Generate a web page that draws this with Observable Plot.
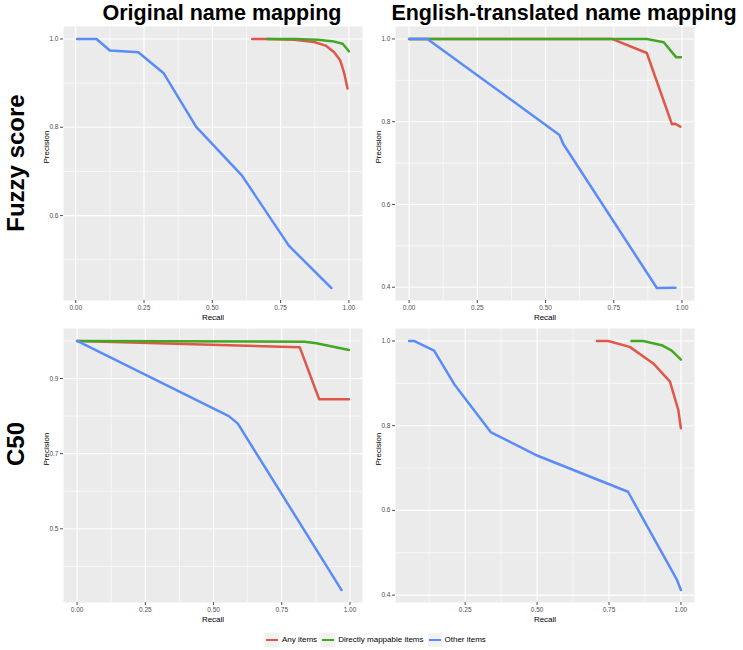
<!DOCTYPE html>
<html><head><meta charset="utf-8">
<script src="https://cdn.jsdelivr.net/npm/d3@7"></script>
<script src="https://cdn.jsdelivr.net/npm/@observablehq/plot@0.6"></script>
<style>
body{margin:0;background:#fff;font-family:"Liberation Sans",Arial,Helvetica,sans-serif;}
#wrap{position:relative;width:743px;height:650px;overflow:hidden;background:#fff;}
.abs{position:absolute;}
.coltitle{font-weight:bold;font-size:21.5px;line-height:1;white-space:nowrap;transform:translateX(-50%);}
.rowtitle{font-weight:bold;font-size:24px;line-height:1;white-space:nowrap;transform:translate(-50%,-50%) rotate(-90deg);}
.legend{display:flex;align-items:center;font-size:8px;color:#000;line-height:1;}
.legend .key{width:14px;height:14px;background:#F2F2F2;display:flex;align-items:center;justify-content:center;margin-right:3px;}
.legend .key span{display:block;width:12px;height:2.5px;}
.legend .lab{margin-right:4px;}
</style></head>
<body><div id="wrap"></div>
<script>
// ---- labels ----
const seriesNames = ["Any items", "Directly mappable items", "Other items"];
const seriesColors = ["#E0574A", "#42A821", "#5A8CF9"];
const columnTitles = ["Original name mapping", "English-translated name mapping"];
const rowTitles = ["Fuzzy score", "C50"];
const xTitle = "Recall";
const yTitle = "Precision";

// ---- ticks ----
const xMajorFull = [0, 0.25, 0.5, 0.75, 1.0];
const xMajorP4 = [0.25, 0.5, 0.75, 1.0];
const xMinor = [0.125, 0.375, 0.625, 0.875];
const yMajorP1 = [0.6, 0.8, 1.0];
const yMinorP1 = [0.5, 0.7, 0.9];
const yMajorP2 = [0.4, 0.6, 0.8, 1.0];
const yMinorP2 = [0.5, 0.7, 0.9];
const yMajorP3 = [0.5, 0.7, 0.9];
const yMinorP3 = [0.4, 0.6, 0.8, 1.0];
const yMajorP4 = [0.4, 0.6, 0.8, 1.0];
const yMinorP4 = [0.5, 0.7, 0.9];

// ---- Panel 1: Fuzzy score, Original name mapping ----
const p1AnyRecall = [0.646, 0.70, 0.80, 0.872, 0.915, 0.946, 0.968, 0.983, 0.995];
const p1AnyPrecision = [1.0, 1.0, 0.998, 0.993, 0.985, 0.970, 0.952, 0.922, 0.888];
const p1DirRecall = [0.70, 0.80, 0.885, 0.946, 0.977, 1.0];
const p1DirPrecision = [1.0, 1.0, 0.998, 0.994, 0.989, 0.972];
const p1OthRecall = [0.005, 0.076, 0.125, 0.229, 0.321, 0.441, 0.608, 0.78, 0.936];
const p1OthPrecision = [1.0, 1.0, 0.974, 0.970, 0.923, 0.801, 0.691, 0.532, 0.436];

// ---- Panel 2: Fuzzy score, English-translated name mapping ----
const p2AnyRecall = [0.0, 0.743, 0.871, 0.963, 0.975, 0.994];
const p2AnyPrecision = [1.0, 1.0, 0.966, 0.794, 0.795, 0.788];
const p2DirRecall = [0.0, 0.871, 0.933, 0.978, 0.996];
const p2DirPrecision = [1.0, 1.0, 0.992, 0.956, 0.956];
const p2OthRecall = [0.0, 0.067, 0.551, 0.565, 0.908, 0.976];
const p2OthPrecision = [1.0, 1.0, 0.768, 0.746, 0.398, 0.399];

// ---- Panel 3: C50, Original name mapping ----
const p3AnyRecall = [0.0, 0.816, 0.887, 0.996];
const p3AnyPrecision = [1.0, 0.983, 0.845, 0.845];
const p3DirRecall = [0.0, 0.834, 0.877, 0.996];
const p3DirPrecision = [1.0, 0.998, 0.994, 0.976];
const p3OthRecall = [0.0, 0.556, 0.589, 0.969];
const p3OthPrecision = [1.0, 0.80, 0.78, 0.337];

// ---- Panel 4: C50, English-translated name mapping ----
const p4AnyRecall = [0.708, 0.747, 0.822, 0.904, 0.962, 0.977, 0.991, 1.0];
const p4AnyPrecision = [1.0, 1.0, 0.986, 0.947, 0.904, 0.869, 0.837, 0.794];
const p4DirRecall = [0.828, 0.869, 0.933, 0.968, 1.0];
const p4DirPrecision = [1.0, 1.0, 0.990, 0.977, 0.956];
const p4OthRecall = [0.055, 0.072, 0.142, 0.212, 0.34, 0.502, 0.816, 0.985, 1.0];
const p4OthPrecision = [1.0, 1.0, 0.977, 0.898, 0.784, 0.729, 0.644, 0.438, 0.412];

function rows(pairs) {
  const out = [];
  pairs.forEach(([xs, ys], i) => xs.forEach((x, j) => out.push({series: seriesNames[i], recall: x, precision: ys[j]})));
  return out;
}
function expand(vals) {
  const [a, b] = d3.extent(vals);
  const p = (b - a) * 0.05;
  return [a - p, b + p];
}

const wrap = document.getElementById("wrap");
const PANEL_W = 299, PANEL_H = 274, ML = 30, MR = 3, MB = 28;

function panel(data, xMajor, yMajor, yMinor, left, top) {
  const xd = expand(data.map(d => d.recall));
  const plot = Plot.plot({
    width: ML + PANEL_W + MR,
    height: PANEL_H + MB,
    marginLeft: ML, marginRight: MR, marginTop: 0, marginBottom: MB,
    style: {background: "transparent", overflow: "visible", fontFamily: "'Liberation Sans', Arial, Helvetica, sans-serif"},
    x: {domain: xd},
    y: {domain: expand(data.map(d => d.precision))},
    color: {domain: seriesNames, range: seriesColors},
    marks: [
      Plot.frame({fill: "#EBEBEB", stroke: "none"}),
      Plot.ruleX(xMinor.filter(v => v > xd[0]), {stroke: "white", strokeWidth: 0.6}),
      Plot.ruleY(yMinor, {stroke: "white", strokeWidth: 0.6}),
      Plot.ruleX(xMajor, {stroke: "white", strokeWidth: 1.1}),
      Plot.ruleY(yMajor, {stroke: "white", strokeWidth: 1.1}),
      Plot.line(data, {x: "recall", y: "precision", z: "series", stroke: "series", strokeWidth: 2.5}),
      Plot.axisX({ticks: xMajor, tickFormat: d3.format(".2f"), tickSize: 3, tickPadding: 1.5, fontSize: 6.5, color: "#4D4D4D", label: null}),
      Plot.axisY({ticks: yMajor, tickFormat: d3.format(".1f"), tickSize: 3, tickPadding: 2, fontSize: 6.5, color: "#4D4D4D", label: null}),
      Plot.text([xTitle], {frameAnchor: "bottom", dy: 19.5, fontSize: 8, fill: "black"}),
      Plot.text([yTitle], {frameAnchor: "left", rotate: -90, dx: -17, fontSize: 8, fill: "black"})
    ]
  });
  plot.classList.add("abs");
  plot.style.left = left + "px";
  plot.style.top = top + "px";
  wrap.appendChild(plot);
}

panel(rows([[p1AnyRecall, p1AnyPrecision], [p1DirRecall, p1DirPrecision], [p1OthRecall, p1OthPrecision]]), xMajorFull, yMajorP1, yMinorP1, 33, 26);
panel(rows([[p2AnyRecall, p2AnyPrecision], [p2DirRecall, p2DirPrecision], [p2OthRecall, p2OthPrecision]]), xMajorFull, yMajorP2, yMinorP2, 365, 26);
panel(rows([[p3AnyRecall, p3AnyPrecision], [p3DirRecall, p3DirPrecision], [p3OthRecall, p3OthPrecision]]), xMajorFull, yMajorP3, yMinorP3, 33, 328);
panel(rows([[p4AnyRecall, p4AnyPrecision], [p4DirRecall, p4DirPrecision], [p4OthRecall, p4OthPrecision]]), xMajorP4, yMajorP4, yMinorP4, 365, 328);

// column titles
[[columnTitles[0], 222], [columnTitles[1], 564]].forEach(([t, cx]) => {
  const d = document.createElement("div");
  d.className = "abs coltitle";
  d.textContent = t;
  d.style.left = cx + "px";
  d.style.top = "3px";
  wrap.appendChild(d);
});
// row titles
[[rowTitles[0], 163], [rowTitles[1], 444]].forEach(([t, cy]) => {
  const d = document.createElement("div");
  d.className = "abs rowtitle";
  d.textContent = t;
  d.style.left = "16px";
  d.style.top = cy + "px";
  wrap.appendChild(d);
});
// legend
const leg = document.createElement("div");
leg.className = "abs legend";
leg.style.left = "265px";
leg.style.top = "633px";
seriesNames.forEach((s, i) => {
  const k = document.createElement("div");
  k.className = "key";
  const ln = document.createElement("span");
  ln.style.background = seriesColors[i];
  k.appendChild(ln);
  leg.appendChild(k);
  const l = document.createElement("div");
  l.className = "lab";
  l.textContent = s;
  leg.appendChild(l);
});
wrap.appendChild(leg);
</script></body></html>
